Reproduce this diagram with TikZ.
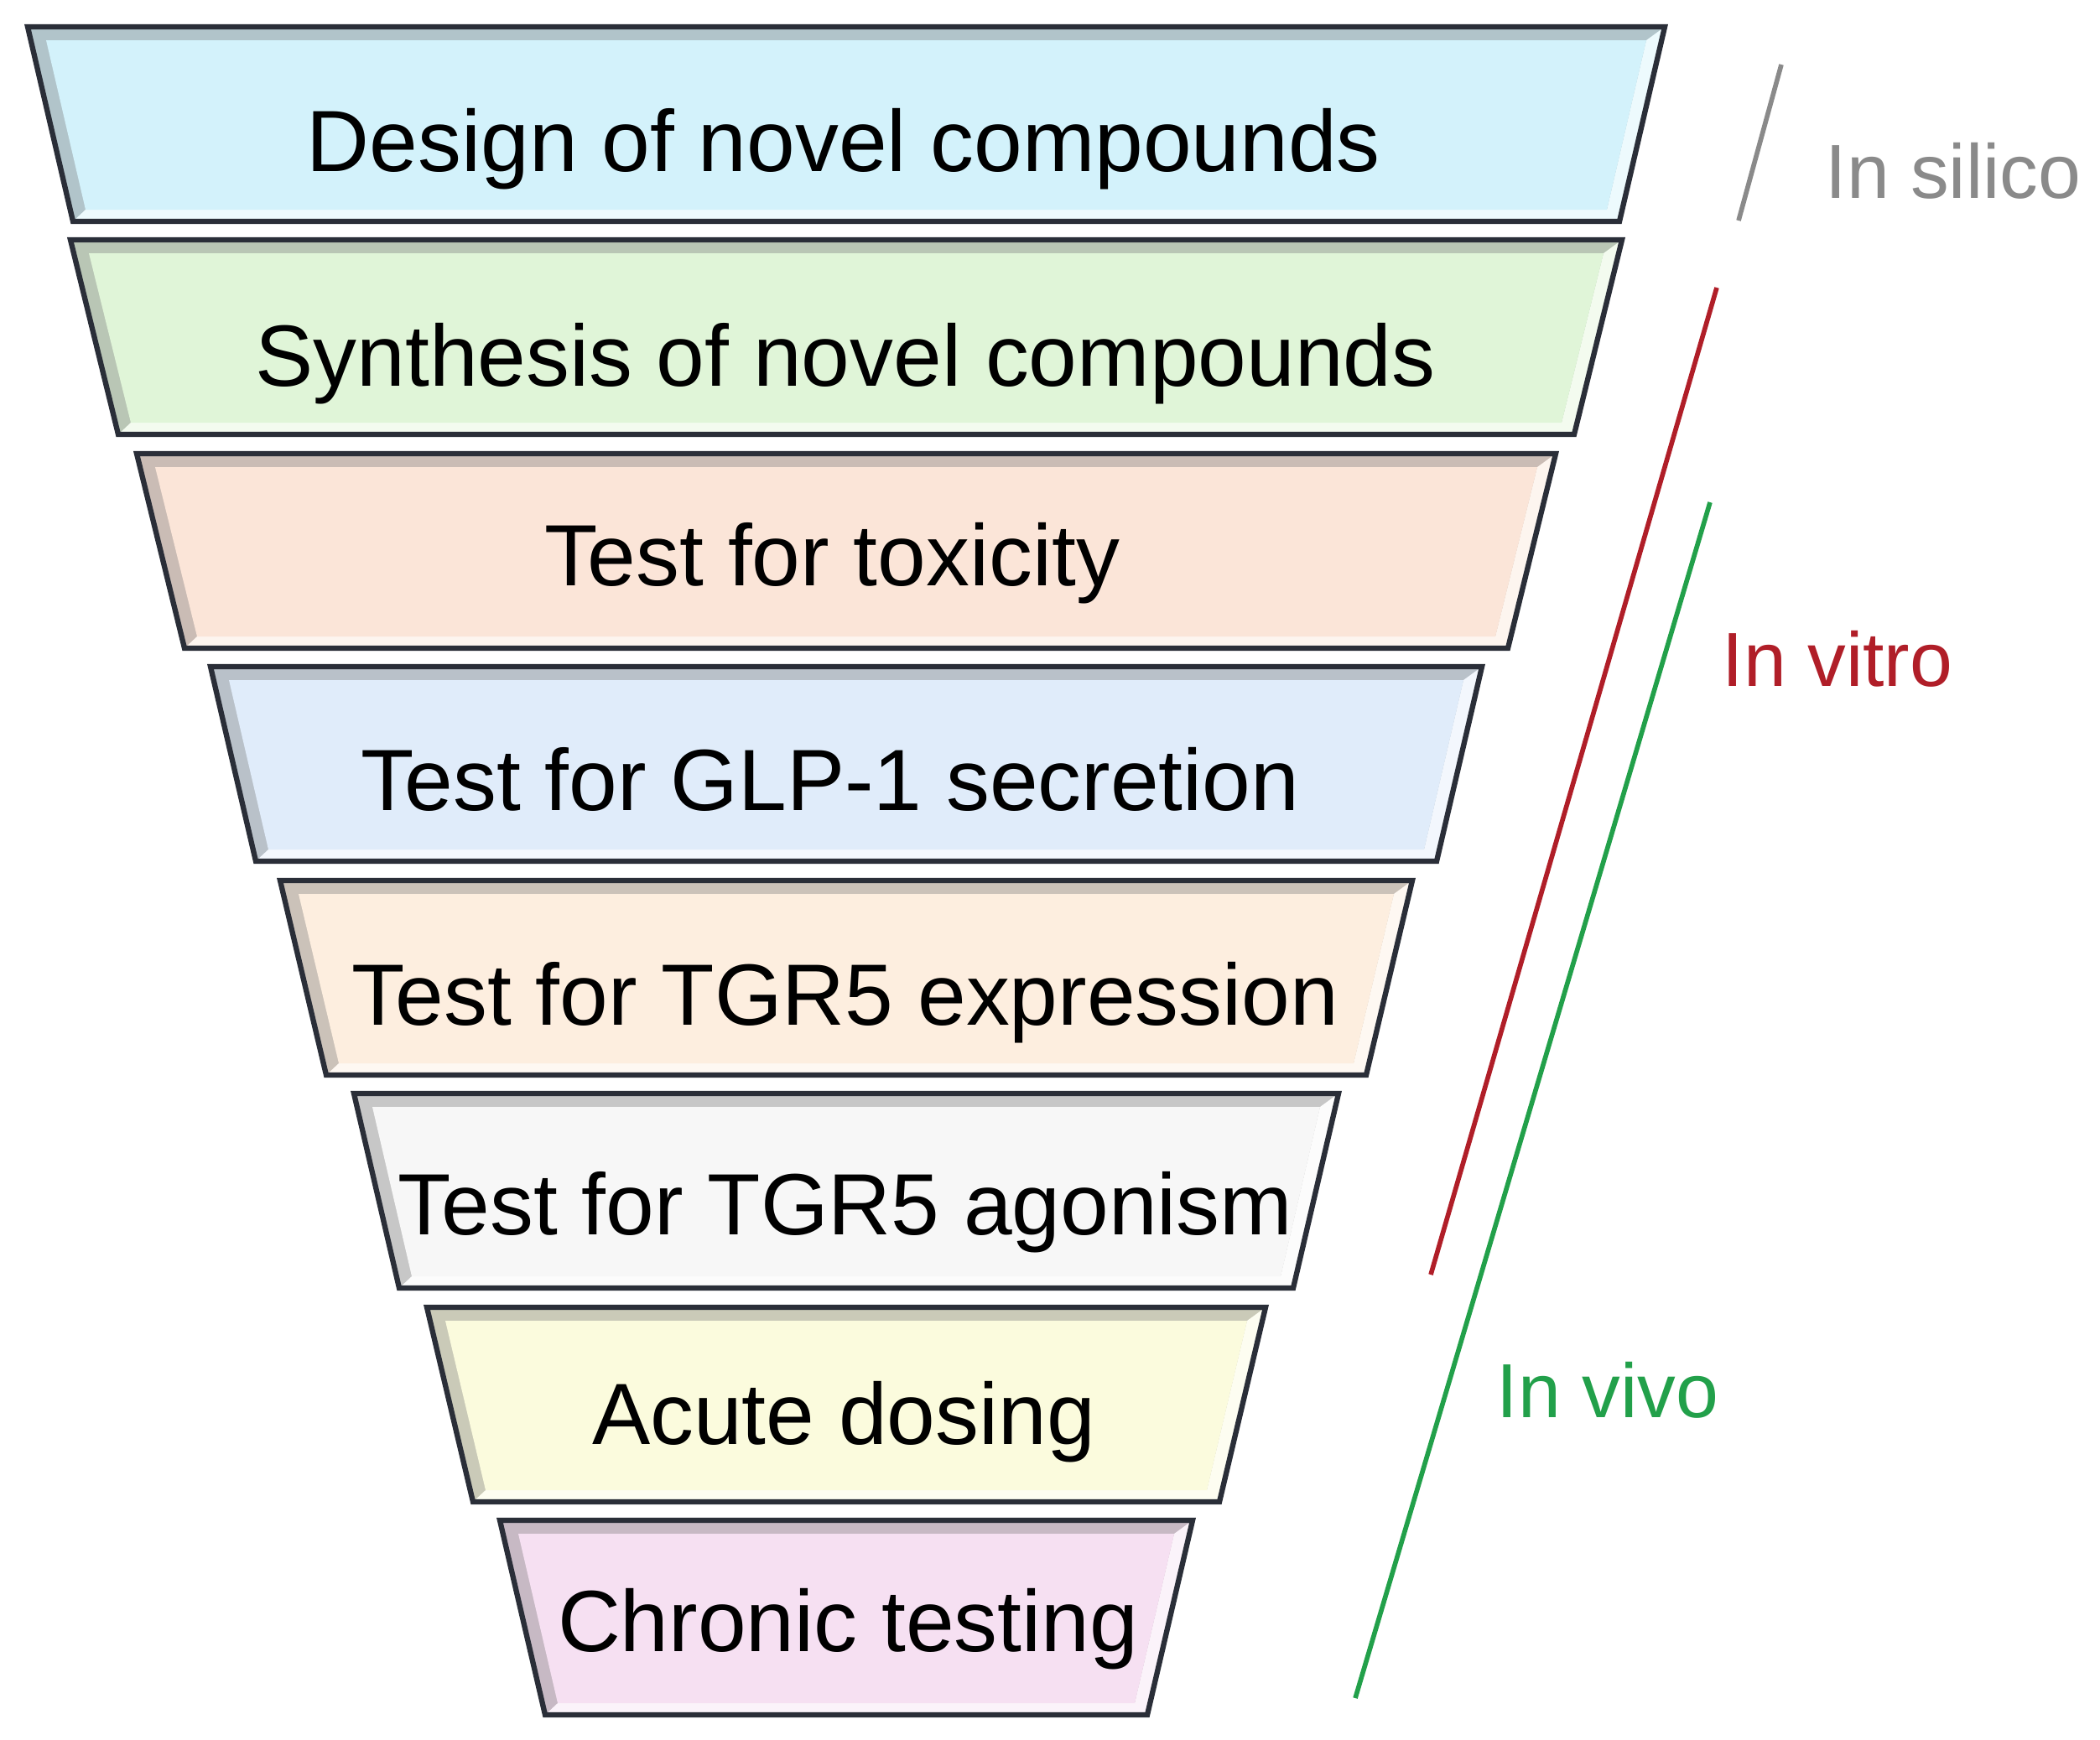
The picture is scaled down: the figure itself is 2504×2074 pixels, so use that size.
\documentclass[tikz,border=0pt]{standalone}
\usepackage{fontspec}
\setmainfont{Liberation Sans}

\definecolor{rimcol}{HTML}{2A2E38}
\definecolor{cyanface}{HTML}{D3F2FB}
\definecolor{greenface}{HTML}{E0F5D8}
\definecolor{peachface}{HTML}{FBE5D8}
\definecolor{blueface}{HTML}{E0ECFA}
\definecolor{creamface}{HTML}{FDEEDF}
\definecolor{whiteface}{HTML}{F7F7F7}
\definecolor{yellowface}{HTML}{FBFBDD}
\definecolor{pinkface}{HTML}{F6E0F2}
\definecolor{silicogray}{HTML}{8A8A8A}
\definecolor{vitrored}{HTML}{B01E28}
\definecolor{vivogreen}{HTML}{22A04A}

\begin{document}
\begin{tikzpicture}[x=0.01cm, y=-0.01cm,
        rim/.style={draw=rimcol, line width=1.8pt, line join=miter},
        stagetext/.style={anchor=base, inner sep=0pt, font=\fontsize{29.5}{35}\selectfont},
        sidetext/.style={anchor=base, inner sep=0pt, font=\fontsize{26}{31}\selectfont},
        bracket/.style={line width=1.6pt}]
            \useasboundingbox (0,0) rectangle (2504,2074);
            % design
            \fill[cyanface!60!gray] (33,32) -- (1985,32) -- (1931,264) -- (87,264) -- cycle;
            \fill[cyanface!40!white] (1985,32) -- (1931,264) -- (87,264) -- (102,250) -- (1916,250) -- (1963,48) -- cycle;
            \fill[cyanface] (55,48) -- (1963,48) -- (1916,250) -- (102,250) -- cycle;
            \draw[rim] (33,32) -- (1985,32) -- (1931,264) -- (87,264) -- cycle;
            % synthesis
            \fill[greenface!60!gray] (84,286) -- (1934,286) -- (1877,518) -- (141,518) -- cycle;
            \fill[greenface!40!white] (1934,286) -- (1877,518) -- (141,518) -- (156,504) -- (1862,504) -- (1912,302) -- cycle;
            \fill[greenface] (106,302) -- (1912,302) -- (1862,504) -- (156,504) -- cycle;
            \draw[rim] (84,286) -- (1934,286) -- (1877,518) -- (141,518) -- cycle;
            % toxicity
            \fill[peachface!60!gray] (163,541) -- (1855,541) -- (1798,773) -- (220,773) -- cycle;
            \fill[peachface!40!white] (1855,541) -- (1798,773) -- (220,773) -- (235,759) -- (1783,759) -- (1833,557) -- cycle;
            \fill[peachface] (185,557) -- (1833,557) -- (1783,759) -- (235,759) -- cycle;
            \draw[rim] (163,541) -- (1855,541) -- (1798,773) -- (220,773) -- cycle;
            % glp-1
            \fill[blueface!60!gray] (251,795) -- (1767,795) -- (1713,1027) -- (305,1027) -- cycle;
            \fill[blueface!40!white] (1767,795) -- (1713,1027) -- (305,1027) -- (320,1013) -- (1698,1013) -- (1745,811) -- cycle;
            \fill[blueface] (273,811) -- (1745,811) -- (1698,1013) -- (320,1013) -- cycle;
            \draw[rim] (251,795) -- (1767,795) -- (1713,1027) -- (305,1027) -- cycle;
            % expression
            \fill[creamface!60!gray] (334,1050) -- (1684,1050) -- (1629,1282) -- (389,1282) -- cycle;
            \fill[creamface!40!white] (1684,1050) -- (1629,1282) -- (389,1282) -- (404,1268) -- (1614,1268) -- (1662,1066) -- cycle;
            \fill[creamface] (356,1066) -- (1662,1066) -- (1614,1268) -- (404,1268) -- cycle;
            \draw[rim] (334,1050) -- (1684,1050) -- (1629,1282) -- (389,1282) -- cycle;
            % agonism
            \fill[whiteface!60!gray] (422,1304) -- (1596,1304) -- (1542,1536) -- (476,1536) -- cycle;
            \fill[whiteface!40!white] (1596,1304) -- (1542,1536) -- (476,1536) -- (491,1522) -- (1527,1522) -- (1574,1320) -- cycle;
            \fill[whiteface] (444,1320) -- (1574,1320) -- (1527,1522) -- (491,1522) -- cycle;
            \draw[rim] (422,1304) -- (1596,1304) -- (1542,1536) -- (476,1536) -- cycle;
            % acute
            \fill[yellowface!60!gray] (509,1559) -- (1509,1559) -- (1454,1791) -- (564,1791) -- cycle;
            \fill[yellowface!40!white] (1509,1559) -- (1454,1791) -- (564,1791) -- (579,1777) -- (1439,1777) -- (1487,1575) -- cycle;
            \fill[yellowface] (531,1575) -- (1487,1575) -- (1439,1777) -- (579,1777) -- cycle;
            \draw[rim] (509,1559) -- (1509,1559) -- (1454,1791) -- (564,1791) -- cycle;
            % chronic
            \fill[pinkface!60!gray] (596,1813) -- (1422,1813) -- (1368,2045) -- (650,2045) -- cycle;
            \fill[pinkface!40!white] (1422,1813) -- (1368,2045) -- (650,2045) -- (665,2031) -- (1353,2031) -- (1400,1829) -- cycle;
            \fill[pinkface] (618,1829) -- (1400,1829) -- (1353,2031) -- (665,2031) -- cycle;
            \draw[rim] (596,1813) -- (1422,1813) -- (1368,2045) -- (650,2045) -- cycle;

            \node[stagetext] (design) at (1006,204) {Design of novel compounds};
            \node[stagetext] (synthesis) at (1008,460) {Synthesis of novel compounds};
            \node[stagetext] (toxicity) at (992,698) {Test for toxicity};
            \node[stagetext] (glp) at (990,966) {Test for GLP-1 secretion};
            \node[stagetext] (expression) at (1008,1222) {Test for TGR5 expression};
            \node[stagetext] (agonism) at (1008,1472) {Test for TGR5 agonism};
            \node[stagetext] (acute) at (1006,1722) {Acute dosing};
            \node[stagetext] (chronic) at (1011,1969) {Chronic testing};

            \coordinate (silicotop) at (2124,77);
            \coordinate (silicobot) at (2073,263);
            \coordinate (vitrotop) at (2047,343);
            \coordinate (vitrobot) at (1706,1520);
            \coordinate (vivotop) at (2039,599);
            \coordinate (vivobot) at (1616,2025);
            \draw[bracket, silicogray] (silicobot) -- (silicotop);
            \draw[bracket, vitrored] (vitrobot) -- (vitrotop);
            \draw[bracket, vivogreen] (vivobot) -- (vivotop);

            \node[sidetext, silicogray] (silico) at (2329,236) {In silico};
            \node[sidetext, vitrored] (vitro) at (2191,818) {In vitro};
            \node[sidetext, vivogreen] (vivo) at (1917,1690) {In vivo};
\end{tikzpicture}
\end{document}
